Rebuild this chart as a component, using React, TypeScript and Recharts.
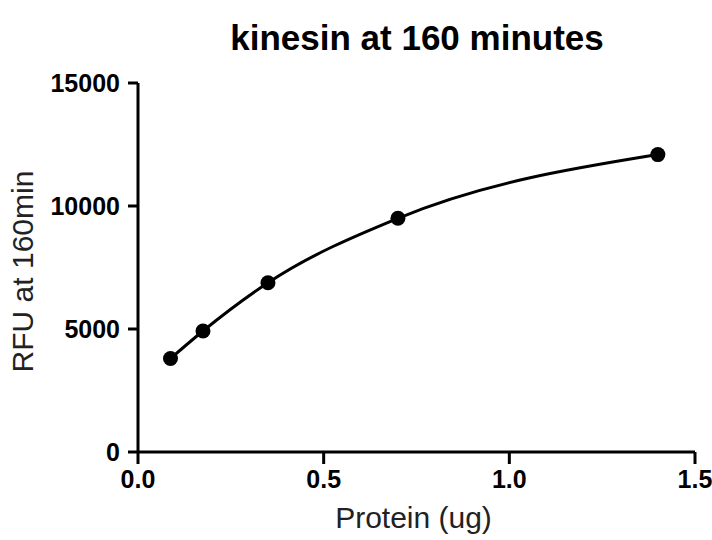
import React from "react";
import { ComposedChart, Line, XAxis, YAxis } from "recharts";

// protein loaded (ug) vs fluorescence read at 160 min
const protein = [0.0875, 0.175, 0.35, 0.7, 1.4];
const rfu = [3800, 4920, 6880, 9500, 12090];
const xTicks = [0, 0.5, 1.0, 1.5];
const yTicks = [0, 5000, 10000, 15000];

const data = protein.map((p, i) => ({ protein: p, rfu: rfu[i] }));

const font = "'Liberation Sans', Arial, sans-serif";

const YTitle = (props: any) => {
  const { viewBox } = props;
  const cx = 33;
  const cy = viewBox.y + viewBox.height / 2 + 4;
  return (
    <text
      x={cx}
      y={cy}
      transform={`rotate(-90, ${cx}, ${cy})`}
      textAnchor="middle"
      fontFamily={font}
      fontSize={30}
      fill="#222"
    >
      RFU at 160min
    </text>
  );
};

const XTitle = (props: any) => {
  const { viewBox } = props;
  const cx = viewBox.x + viewBox.width / 2 - 3;
  return (
    <text x={cx} y={528} textAnchor="middle" fontFamily={font} fontSize={30} fill="#222">
      Protein (ug)
    </text>
  );
};

export default function App() {
  const axisStroke = { stroke: "#000", strokeWidth: 3 };
  const tickStyle = { fill: "#000", fontSize: 25, fontWeight: "bold", fontFamily: font };
  return (
    <div style={{ position: "absolute", left: 0, top: 0, width: 712, height: 540, background: "#fff" }}>
      <div
        style={{
          position: "absolute",
          left: 217,
          top: 20,
          width: 400,
          textAlign: "center",
          fontFamily: font,
          fontWeight: "bold",
          fontSize: 35,
          lineHeight: "35px",
          color: "#000",
        }}
      >
        kinesin at 160 minutes
      </div>
      <ComposedChart width={712} height={540} data={data} margin={{ top: 83, right: 17, bottom: 0, left: 0 }}>
        <XAxis
          dataKey="protein"
          type="number"
          domain={[0, 1.5]}
          ticks={xTicks}
          tickFormatter={(v: number) => v.toFixed(1)}
          height={88}
          axisLine={axisStroke}
          tickLine={axisStroke}
          tickSize={12}
          tickMargin={6}
          tick={tickStyle}
          interval={0}
          label={<XTitle />}
        />
        <YAxis
          type="number"
          domain={[0, 15000]}
          ticks={yTicks}
          width={138}
          axisLine={axisStroke}
          tickLine={axisStroke}
          tickSize={10}
          tickMargin={8}
          tick={tickStyle}
          interval={0}
          label={<YTitle />}
        />
        <Line
          dataKey="rfu"
          type="monotone"
          stroke="#000"
          strokeWidth={3}
          dot={{ r: 7.5, fill: "#000", stroke: "none" }}
          isAnimationActive={false}
        />
      </ComposedChart>
    </div>
  );
}
